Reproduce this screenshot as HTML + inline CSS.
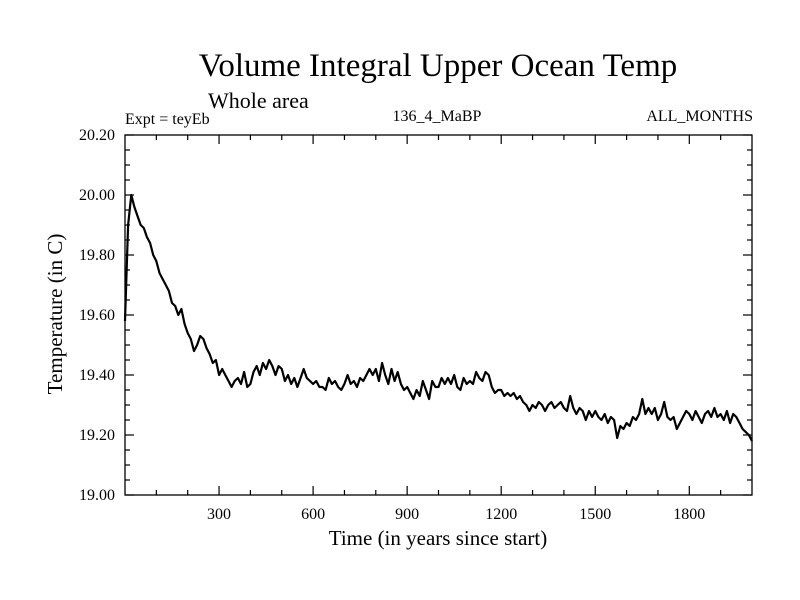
<!DOCTYPE html>
<html><head><meta charset="utf-8"><style>
body{margin:0;background:#fff}
svg{display:block;font-family:"Liberation Serif",serif}
</style></head><body>
<svg id="chart" width="800" height="600">
<text x="438" y="76" font-size="33" text-anchor="middle">Volume Integral Upper Ocean Temp</text>
<text x="208" y="108" font-size="22">Whole area</text>
<text x="125" y="124" font-size="16">Expt = teyEb</text>
<text x="437" y="121" font-size="16" text-anchor="middle">136_4_MaBP</text>
<text x="753" y="121" font-size="16" text-anchor="end">ALL_MONTHS</text>
<text x="438" y="545" font-size="21" text-anchor="middle">Time (in years since start)</text>
<text transform="translate(62,314) rotate(-90)" font-size="21" text-anchor="middle">Temperature (in C)</text>
<g id="axes"></g>
<path id="series" fill="none" stroke="#000" stroke-width="2.2" stroke-linejoin="round"></path>
<rect x="125" y="135" width="627" height="360" fill="none" stroke="#000" stroke-width="1.3"></rect>
</svg>
<script>
const xTicks=[300,600,900,1200,1500,1800];
const yTicks=[19.00,19.20,19.40,19.60,19.80,20.00,20.20];
const years=[];for(let i=0;i<=200;i++)years.push(i*10);
const temps=[19.58,19.90,20.00,19.96,19.93,19.90,19.89,19.86,19.84,19.80,
19.78,19.74,19.72,19.70,19.68,19.64,19.63,19.60,19.62,19.57,
19.54,19.52,19.48,19.50,19.53,19.52,19.49,19.47,19.44,19.45,
19.40,19.42,19.40,19.38,19.36,19.38,19.39,19.37,19.41,19.36,
19.37,19.41,19.43,19.40,19.44,19.42,19.45,19.43,19.40,19.43,
19.42,19.38,19.40,19.37,19.39,19.36,19.39,19.42,19.39,19.38,
19.37,19.38,19.36,19.36,19.35,19.39,19.37,19.38,19.36,19.35,
19.37,19.40,19.37,19.38,19.36,19.39,19.38,19.40,19.42,19.40,
19.42,19.38,19.44,19.40,19.37,19.42,19.38,19.41,19.37,19.35,
19.36,19.34,19.32,19.35,19.33,19.38,19.35,19.32,19.38,19.36,
19.36,19.39,19.37,19.39,19.37,19.40,19.36,19.35,19.39,19.37,
19.38,19.37,19.41,19.39,19.38,19.41,19.40,19.36,19.34,19.35,
19.35,19.33,19.34,19.33,19.34,19.32,19.33,19.31,19.30,19.28,
19.30,19.29,19.31,19.30,19.28,19.30,19.31,19.29,19.30,19.31,
19.29,19.28,19.33,19.29,19.27,19.29,19.28,19.25,19.28,19.26,
19.28,19.26,19.25,19.27,19.24,19.26,19.25,19.19,19.23,19.22,
19.24,19.23,19.26,19.25,19.27,19.32,19.27,19.29,19.27,19.29,
19.25,19.27,19.31,19.26,19.25,19.26,19.22,19.24,19.26,19.28,
19.27,19.25,19.28,19.26,19.24,19.27,19.28,19.26,19.29,19.26,
19.27,19.25,19.28,19.24,19.27,19.26,19.24,19.22,19.21,19.20,19.18];
const X0=125,X1=752,Y0=495,Y1=135,XMIN=0,XMAX=2000,YMIN=19.0,YMAX=20.2;
const sx=v=>X0+(v-XMIN)/(XMAX-XMIN)*(X1-X0);
const sy=v=>Y0-(v-YMIN)/(YMAX-YMIN)*(Y0-Y1);
const NS='http://www.w3.org/2000/svg';
const g=document.getElementById('axes');
function ln(x1,y1,x2,y2,name){const l=document.createElementNS(NS,'line');
l.setAttribute('x1',x1);l.setAttribute('y1',y1);l.setAttribute('x2',x2);l.setAttribute('y2',y2);
l.setAttribute('stroke','#000');l.setAttribute('stroke-width','1.2');


g.appendChild(l);}
function tx(x,y,s,anchor,name){const t=document.createElementNS(NS,'text');
t.setAttribute('x',x);t.setAttribute('y',y);t.setAttribute('font-size','16');t.setAttribute('text-anchor',anchor);t.textContent=s;


g.appendChild(t);}
for(let v=100;v<XMAX;v+=100){const x=sx(v);const major=v%300===0;const L=major?9:5;
ln(x,Y0,x,Y0-L,'x-tick');ln(x,Y1,x,Y1+L,'x-tick-top');}
xTicks.forEach(v=>tx(sx(v),519,String(v),'middle','x-tick-label'));
for(let k=0;k<=24;k++){const v=YMIN+k*0.05;const y=sy(v);const major=k%4===0;const L=major?9:5;
ln(X0,y,X0+L,y,'y-tick');ln(X1,y,X1-L,y,'y-tick-right');}
yTicks.forEach(v=>tx(115,sy(v)+5,v.toFixed(2),'end','y-tick-label'));
document.getElementById('series').setAttribute('d',years.map((yr,i)=>(i?'L':'M')+sx(yr).toFixed(1)+' '+sy(temps[i]).toFixed(1)).join(' '));
</script>
</body></html>
